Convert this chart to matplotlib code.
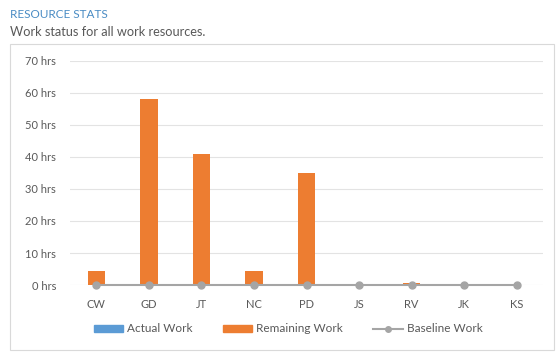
import numpy as np
import matplotlib.pyplot as plt
from matplotlib.patches import Rectangle
from matplotlib.lines import Line2D

# data
resources = ['CW', 'GD', 'JT', 'NC', 'PD', 'JS', 'RV', 'JK', 'KS']
actual_work = [0, 0, 0, 0, 0, 0, 0, 0, 0]
remaining_work = [4.5, 58, 41, 4.5, 35, 0, 0.7, 0, 0]
baseline_work = [0, 0, 0, 0, 0, 0, 0, 0, 0]
yticks = [0, 10, 20, 30, 40, 50, 60, 70]

plt.rcParams['font.family'] = ['Lato', 'DejaVu Sans']

fig = plt.figure(figsize=(5.56, 3.54), dpi=100)
fig.patch.set_facecolor('white')

# header text
fig.text(10/556, 1 - 14/354, 'RESOURCE STATS', color='#4a8cc4', fontsize=8.5,
         va='center', ha='left')
fig.text(10/556, 1 - 32/354, 'Work status for all work resources.', color='#595959',
         fontsize=9.2, va='center', ha='left')

# outer box
fig.patches.append(Rectangle((10/556, 4/354), 544/556, 306/354, transform=fig.transFigure,
                             fill=False, edgecolor='#d9d9d9', lw=0.8))

ax = fig.add_axes([70/556, 1 - 285/354, 473/556, 224/354])
x = np.arange(len(resources))
w = 0.33
ax.bar(x, actual_work, w, color='#5b9bd5', label='Actual Work', zorder=2)
ax.bar(x, remaining_work, w, bottom=actual_work, color='#ed7d31', label='Remaining Work', zorder=2)
ax.plot(x, baseline_work, color='#a5a5a5', lw=1.5, marker='o', ms=5,
        label='Baseline Work', zorder=3, clip_on=False)

ax.set_xlim(-0.5, len(resources) - 0.5)
ax.set_ylim(0, 70)
ax.set_yticks(yticks)
ax.set_yticklabels([f'{v} hrs' for v in yticks])
ax.set_xticks(x)
ax.set_xticklabels(resources)
ax.tick_params(length=0, labelsize=8, colors='#595959', pad=10)
ax.grid(axis='y', color='#e3e3e3', lw=0.8, zorder=0)
for s in ax.spines.values():
    s.set_visible(False)

handles = [Rectangle((0, 0), 1, 1, color='#5b9bd5'),
           Rectangle((0, 0), 1, 1, color='#ed7d31'),
           Line2D([0], [0], color='#a5a5a5', lw=1.5, marker='o', ms=4)]
fig.legend(handles, ['Actual Work', 'Remaining Work', 'Baseline Work'], loc='center',
           bbox_to_anchor=(288/556, 1 - 329/354), ncol=3, frameon=False, fontsize=8.5,
           handlelength=2.5, handleheight=0.5, columnspacing=2.6, handletextpad=0.3,
           labelcolor='#595959')

fig.savefig('out.png', dpi=100)
